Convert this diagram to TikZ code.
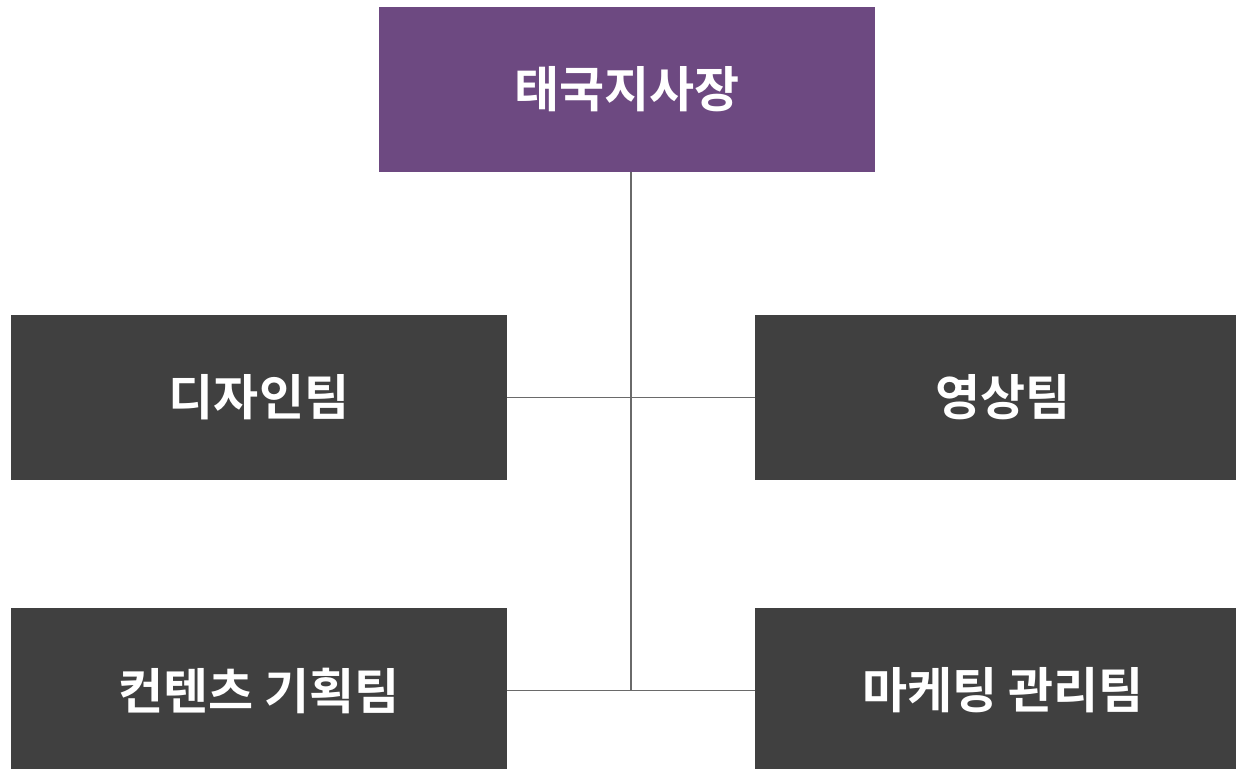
\documentclass[tikz,border=0pt]{standalone}
\usepackage{fontspec}
\newfontfamily\kr{Noto Sans CJK KR Bold}
\definecolor{boss}{HTML}{6D4981}
\definecolor{team}{HTML}{404040}
\definecolor{wire}{HTML}{6A6A6A}
\begin{document}
\begin{tikzpicture}[x=1pt,y=-1pt,
  box/.style={rectangle, draw=none, minimum width=496pt, minimum height=165pt, inner sep=0pt,
    text=white, font=\kr\fontsize{49}{54}\selectfont},
  wireline/.style={draw=wire, line width=1.2pt}]
\useasboundingbox (0,0) rectangle (1236,768);
\node[box, fill=boss] (top) at (627,89.5) {태국지사장};
\node[box, fill=team] (design) at (259,397.5) {디자인팀};
\node[box, fill=team] (video) at (1003,397.5) {영상팀};
\node[box, fill=team] (content) at (259,690.5) {컨텐츠 기획팀};
\node[box, fill=team] (market) at (1003,690.5) {마케팅 관리팀};
\coordinate (vtop) at (631,172);
\coordinate (vbot) at (631,690);
\draw[wireline] (vtop) -- (vbot);
\draw[wireline] (design.east) -- (video.west);
\draw[wireline] (content.east) -- (market.west);
\end{tikzpicture}
\end{document}
